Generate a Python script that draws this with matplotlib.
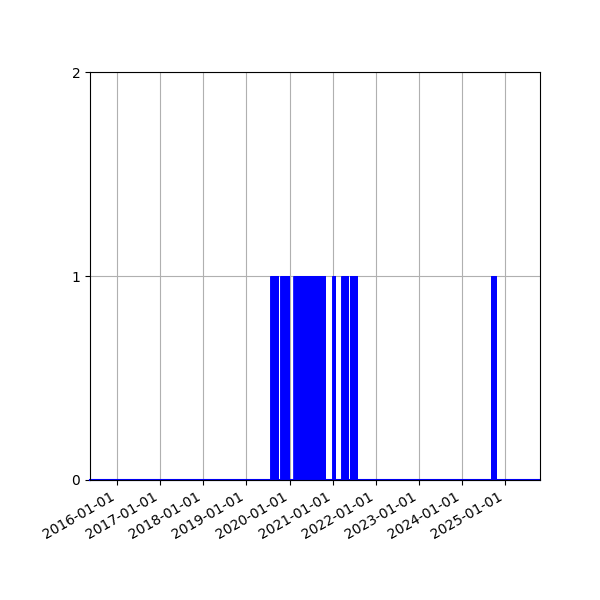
import matplotlib
matplotlib.use("Agg")
import matplotlib.pyplot as plt
import matplotlib.dates as mdates
import pandas as pd

# daily series spans this range, value 1 inside the active periods, 0 elsewhere
series_start = "2015-05-17"
series_end = "2025-10-23"
period_starts = ["2019-07-23", "2019-10-16", "2020-02-04", "2020-12-29",
                 "2021-03-15", "2021-05-24", "2024-09-03"]
period_ends = ["2019-09-28", "2019-12-31", "2020-10-30", "2021-01-24",
               "2021-05-11", "2021-07-27", "2024-10-16"]

days = pd.date_range(series_start, series_end, freq="D")
counts = pd.Series(0, index=days)
for s, e in zip(period_starts, period_ends):
    counts[s:e] = 1

fig, ax = plt.subplots(figsize=(6, 6), dpi=100)
ax.bar(counts.index, counts.values, width=1, color="blue",
       edgecolor="blue", linewidth=0.5)
# zero days show up as a thin blue line along the baseline
ax.axhline(0, color="blue", linewidth=1.5, clip_on=False, zorder=1.5)

ax.set_xlim(pd.Timestamp(series_start), pd.Timestamp(series_end))
ax.set_ylim(0, 2)
ax.set_yticks([0, 1, 2])
ax.xaxis.set_major_locator(mdates.YearLocator())
ax.xaxis.set_major_formatter(mdates.DateFormatter("%Y-%m-%d"))
ax.grid(True)
ax.set_axisbelow(True)

fig.autofmt_xdate()
fig.subplots_adjust(left=0.15, right=0.9, bottom=0.2, top=0.88)
fig.savefig("out.png")
